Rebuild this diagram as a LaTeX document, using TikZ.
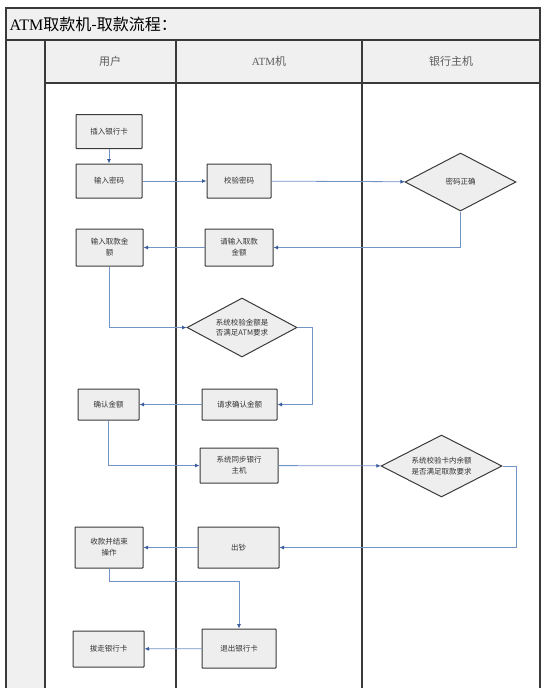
\documentclass[tikz,border=0pt]{standalone}
\usepackage{fontspec}
\setmainfont{Liberation Serif}
\newfontfamily\cjk{Noto Sans CJK SC}
\usepackage{xcolor}
\usepackage{tikz}
\usetikzlibrary{shapes.geometric,arrows.meta}
\definecolor{frame}{HTML}{3A3A3A}
\definecolor{band}{HTML}{F0F0F0}
\definecolor{boxfill}{HTML}{EEEEEE}
\definecolor{flowline}{HTML}{7193C6}
\definecolor{tip}{HTML}{3B5C9C}
\definecolor{ink}{HTML}{333333}
\tikzset{
  lane/.style={draw=frame, line width=1.4pt},
  head/.style={text=ink!80, font=\cjk\fontsize{11}{13}\selectfont},
  box/.style={draw=frame, fill=boxfill, line width=1pt, rounded corners=0.6pt,
    text=ink, font=\cjk\fontsize{7.5}{11}\selectfont, align=center,
    minimum width=66pt, minimum height=34pt, inner sep=1pt},
  chk/.style={diamond, aspect=2, draw=frame, fill=boxfill, line width=1pt,
    text=ink, font=\cjk\fontsize{7.5}{10.5}\selectfont, align=center, inner sep=0pt},
  flow/.style={draw=flowline, line width=0.8pt,
    -{Latex[length=4.5pt,width=4pt,fill=tip,color=tip]}}
}

\begin{document}
\begin{tikzpicture}[x=1pt,y=-1pt]
\useasboundingbox (0,0) rectangle (554,688);
\fill[band] (6,8) rectangle (540,40);
\fill[band] (6,40) rectangle (45,688);
\fill[band] (45,40) rectangle (540,83);
\draw[lane] (6,688)--(6,8)--(540,8)--(540,688);
\draw[lane] (6,40)--(540,40);
\draw[lane] (45,83)--(540,83);
\draw[lane] (45,40)--(45,688);
\draw[lane] (176,40)--(176,688);
\draw[lane] (362,40)--(362,688);
\node[anchor=west, font=\fontsize{16}{18}\selectfont] (title) at (6,24) {ATM{\cjk 取款机-取款流程：}};
\node[head] (user) at (110,61) {用户};
\node[head] (atm) at (269,61) {{\rmfamily ATM}机};
\node[head] (bank) at (451,61) {银行主机};

\node[box] (ins) at (109,131.5) {插入银行卡};
\node[box] (pwd) at (109,181) {输入密码};
\node[box, minimum width=64pt] (chk) at (239,181) {校验密码};
\node[chk, minimum width=111pt, minimum height=58pt] (ok) at (460.5,182) {密码正确};
\node[box, minimum width=67pt, minimum height=37pt] (amt) at (109.5,247.5) {输入取款金\\额};
\node[box, minimum width=68pt, minimum height=37pt] (ask) at (239,247.5) {请输入取款\\金额};
\node[chk, minimum width=110pt, minimum height=59pt] (lim) at (242,327.5) {系统校验金额是\\否满足ATM要求};
\node[box, minimum width=75pt, minimum height=31pt] (req) at (239.5,404.5) {请求确认金额};
\node[box, minimum width=61pt, minimum height=31pt] (cfm) at (108.5,404.5) {确认金额};
\node[box, minimum width=78pt, minimum height=35pt] (sync) at (239,465.5) {系统同步银行\\主机};
\node[chk, minimum width=121pt, minimum height=62pt] (bal) at (441.5,466) {系统校验卡内余额\\是否满足取款要求};
\node[box, minimum width=81pt, minimum height=41pt] (cash) at (238.5,547.5) {出钞};
\node[box, minimum width=68pt, minimum height=41pt] (done) at (109,547.5) {收款并结束\\操作};
\node[box, minimum width=74pt, minimum height=39pt] (exit) at (239,648.5) {退出银行卡};
\node[box, minimum width=71pt, minimum height=36pt] (take) at (108.5,649) {拔走银行卡};

\draw[flow] (ins)--(pwd);
\draw[flow] (pwd)--(chk);
\draw[flow] (chk)--(ok);
\draw[flow] (ok.south)|-(ask);
\draw[flow] (ask)--(amt);
\draw[flow] (amt.south)|-(lim.west);
\draw[flow] (lim.east)--++(15,0)|-(req.east);
\draw[flow] (req)--(cfm);
\draw[flow] (cfm.south)|-(sync.west);
\draw[flow] (sync)--(bal);
\draw[flow] (bal.east)--++(14,0)|-(cash.east);
\draw[flow] (cash)--(done);
\draw[flow] (done.south)--++(0,13)-|(exit.north);
\draw[flow] (exit)--(take);
\end{tikzpicture}
\end{document}
